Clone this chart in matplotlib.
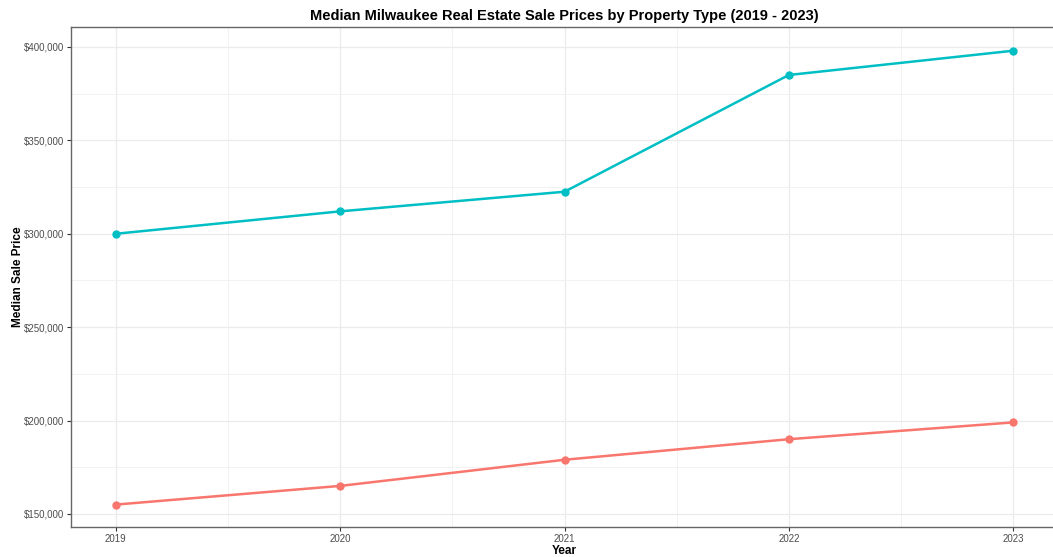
import matplotlib
matplotlib.use("Agg")
import matplotlib.pyplot as plt
from matplotlib.ticker import FuncFormatter, MultipleLocator

plt.rcParams['font.family'] = ['Liberation Sans', 'DejaVu Sans']

years = [2019, 2020, 2021, 2022, 2023]
series_a = [300000, 312000, 322500, 385000, 398000]   # teal
series_b = [155000, 165000, 179000, 190000, 199000]   # red
colors = {"a": "#00BFC4", "b": "#F8766D"}

fig = plt.figure(figsize=(10.53, 5.57), dpi=100)
ax = fig.add_axes([71/1053, 1-527/557, (1058-71)/1053, (527-27)/557])

ax.plot(years, series_a, color=colors["a"], lw=1.8, marker='o', ms=5, zorder=3)
ax.plot(years, series_b, color=colors["b"], lw=1.8, marker='o', ms=5, zorder=3)

ax.set_xlim(2018.8, 2023.2)
ax.set_ylim(143000, 410700)
ax.xaxis.set_major_locator(MultipleLocator(1))
ax.xaxis.set_minor_locator(MultipleLocator(0.5))
ax.yaxis.set_major_locator(MultipleLocator(50000))
ax.yaxis.set_minor_locator(MultipleLocator(25000))
ax.yaxis.set_major_formatter(FuncFormatter(lambda v, p: f"${int(v):,}"))
ax.xaxis.set_major_formatter(FuncFormatter(lambda v, p: f"{int(round(v))}"))

ax.grid(which='major', color='#ebebeb', lw=0.9)
ax.grid(which='minor', color='#f2f2f2', lw=0.7)
ax.set_axisbelow(True)
ax.tick_params(which='minor', length=0)
ax.tick_params(which='major', length=3, color='#333333', labelsize=7, labelcolor='#4d4d4d', pad=2)
for s in ax.spines.values():
    s.set_color('#666666')
    s.set_linewidth(1.0)

ax.set_title("Median Milwaukee Real Estate Sale Prices by Property Type (2019 - 2023)",
             fontsize=10.5, fontweight='bold', pad=5)
ax.set_xlabel("Year", fontsize=8.5, fontweight='bold', labelpad=1)
ax.set_ylabel("Median Sale Price", fontsize=8.5, fontweight='bold', labelpad=0)

fig.savefig("out.png", dpi=100)
